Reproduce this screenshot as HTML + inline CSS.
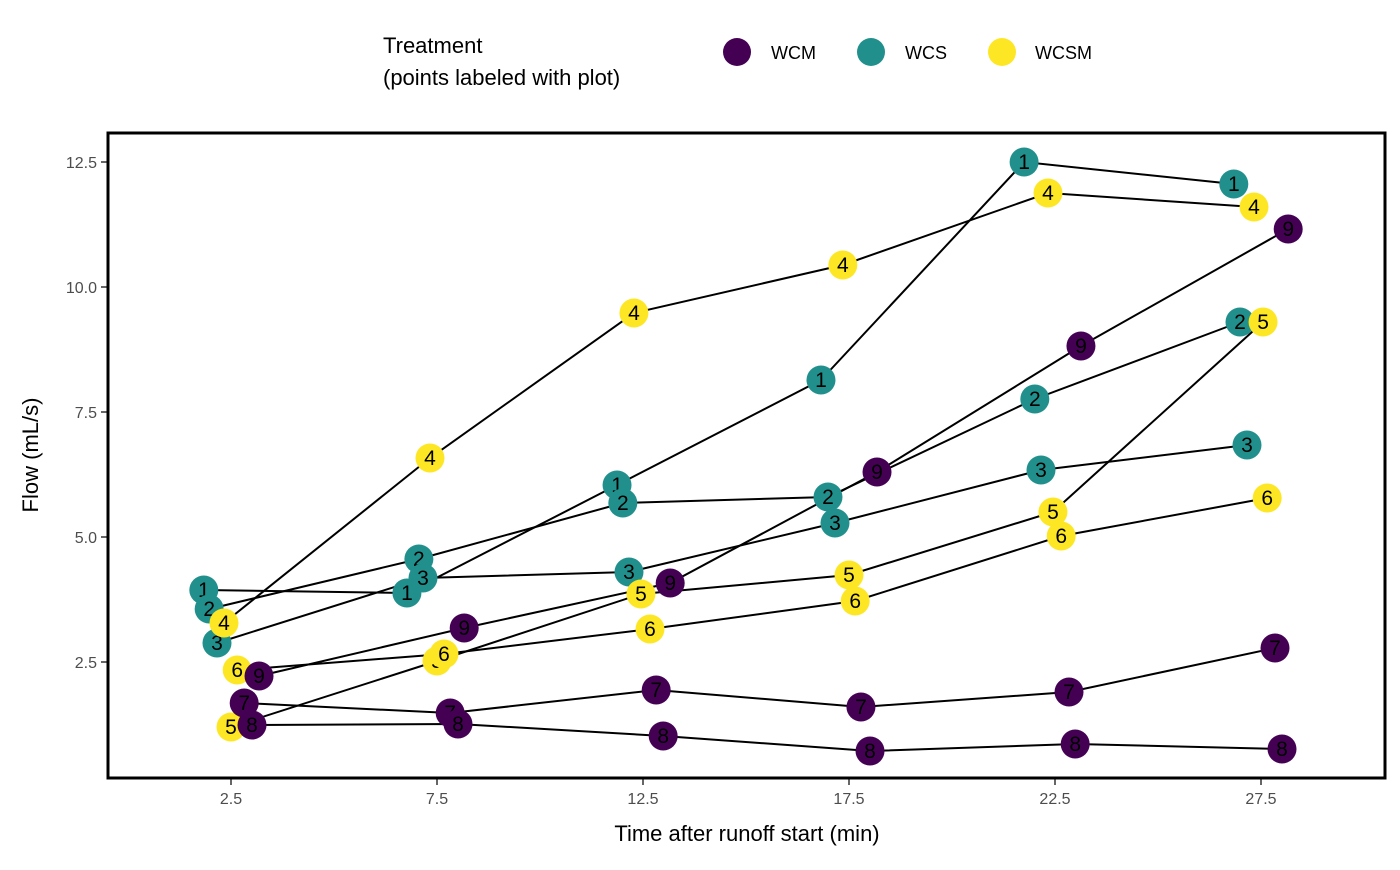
<!DOCTYPE html>
<html><head><meta charset="utf-8"><style>
body{margin:0;background:#fff}
svg text{font-family:"Liberation Sans",Arial,sans-serif}
</style></head><body>
<svg id="chart" width="1400" height="865" xmlns="http://www.w3.org/2000/svg">
<g id="legend">
<text x="383" y="53" font-size="22">Treatment</text>
<text x="383" y="85" font-size="22">(points labeled with plot)</text>
<g><circle cx="737" cy="52" r="14" fill="#440154"/><text x="771" y="59" font-size="18">WCM</text></g>
<g><circle cx="871" cy="52" r="14" fill="#21908C"/><text x="905" y="59" font-size="18">WCS</text></g>
<g><circle cx="1002" cy="52" r="14" fill="#FDE725"/><text x="1035" y="59" font-size="18">WCSM</text></g>
</g>
<g id="axes"></g>
<g id="lines"></g>
<g id="points"></g>
<rect x="108" y="133" width="1277" height="645" fill="none" stroke="#000" stroke-width="3"/>
<text x="747" y="841" font-size="22" text-anchor="middle">Time after runoff start (min)</text>
<text transform="translate(38,455) rotate(-90)" font-size="22" text-anchor="middle">Flow (mL/s)</text>
</svg>
<script>
const plotIds=["1","2","3","4","5","6","7","8","9"];
const treatments=["WCS","WCS","WCS","WCSM","WCSM","WCSM","WCM","WCM","WCM"];
const times=[
[1.84,6.77,11.87,16.82,21.75,26.84],
[1.97,7.06,12.01,16.99,22.01,26.99],
[2.16,7.16,12.16,17.16,22.16,27.16],
[2.33,7.33,12.28,17.35,22.33,27.33],
[2.5,7.5,12.45,17.5,22.45,27.55],
[2.65,7.67,12.67,17.65,22.65,27.65],
[2.82,7.82,12.82,17.79,22.84,27.84],
[3.01,8.01,12.99,18.01,22.99,28.01],
[3.18,8.16,13.16,18.18,23.13,28.16]];
const flows=[
[3.94,3.88,6.04,8.14,12.5,12.06],
[3.56,4.56,5.68,5.8,7.76,9.3],
[2.88,4.18,4.3,5.28,6.34,6.84],
[3.28,6.58,9.48,10.44,11.88,11.6],
[1.2,2.52,3.86,4.24,5.5,9.3],
[2.34,2.66,3.16,3.72,5.02,5.78],
[1.68,1.48,1.94,1.6,1.9,2.78],
[1.24,1.26,1.02,0.72,0.86,0.76],
[2.22,3.18,4.08,6.3,8.82,11.16]];
const xTicks=[2.5,7.5,12.5,17.5,22.5,27.5];
const yTicks=[2.5,5.0,7.5,10.0,12.5];
const colors={WCM:"#440154",WCS:"#21908C",WCSM:"#FDE725"};
const X=t=>231+(t-2.5)*41.2;
const Y=v=>662-(v-2.5)*50;
const NS="http://www.w3.org/2000/svg";
function mk(tag,attrs,parent){const e=document.createElementNS(NS,tag);for(const k in attrs)e.setAttribute(k,attrs[k]);parent.appendChild(e);return e;}
const axes=document.getElementById('axes');
xTicks.forEach(t=>{
 const l=mk('line',{x1:X(t),x2:X(t),y1:779,y2:785,stroke:'#333','stroke-width':1.5},axes);
 
 
 const tx=mk('text',{x:X(t),y:804,'font-size':16,fill:'#4d4d4d','text-anchor':'middle'},axes);
 tx.textContent=t.toFixed(1);
 
 
});
yTicks.forEach(v=>{
 const l=mk('line',{x1:101,x2:107,y1:Y(v),y2:Y(v),stroke:'#333','stroke-width':1.5},axes);
 
 
 const tx=mk('text',{x:97,y:Y(v)+6,'font-size':16,fill:'#4d4d4d','text-anchor':'end'},axes);
 tx.textContent=v.toFixed(1);
 
 
});
const lines=document.getElementById('lines'),pts=document.getElementById('points');
plotIds.forEach((p,i)=>{
 const d=times[i].map((t,j)=>X(t)+','+Y(flows[i][j])).join(' ');
 const pl=mk('polyline',{points:d,fill:'none',stroke:'#000','stroke-width':2},lines);
 
 
});
plotIds.forEach((p,i)=>{
 times[i].forEach((t,j)=>{
  const g=mk('g',{},pts);
  
  
  mk('circle',{cx:X(t),cy:Y(flows[i][j]),r:14.5,fill:colors[treatments[i]]},g);
  const tx=mk('text',{x:X(t),y:Y(flows[i][j])+7,'font-size':21,'text-anchor':'middle',fill:'#000'},g);
  tx.textContent=p;
 });
});
</script>
</body></html>
